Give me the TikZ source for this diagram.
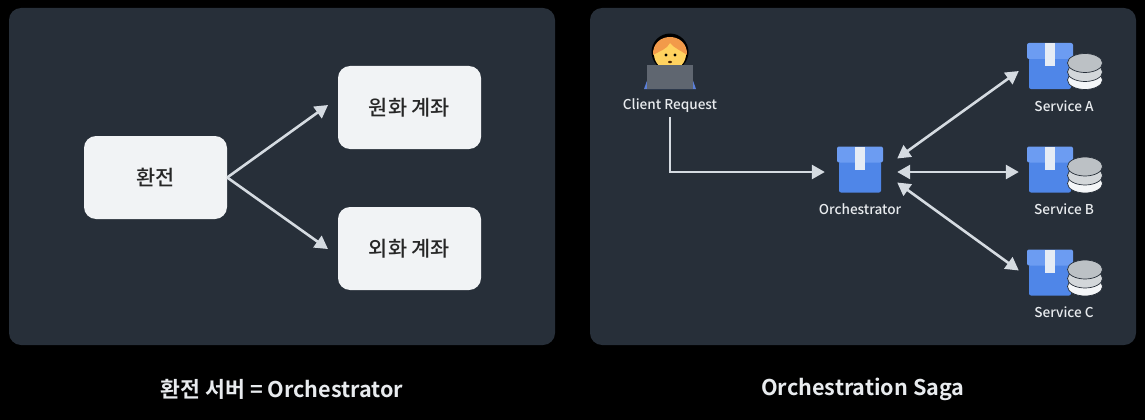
\documentclass[tikz,border=0pt]{standalone}
\usepackage{fontspec}
\setmainfont{Noto Sans CJK KR Medium}[BoldFont={Noto Sans CJK KR Bold}]
\usetikzlibrary{positioning,arrows.meta,calc}
\definecolor{panelcol}{HTML}{272F39}
\definecolor{boxcol}{HTML}{F1F3F5}
\definecolor{linecol}{HTML}{D5DBE1}
\definecolor{textcol}{HTML}{E8EBEE}
\definecolor{lidcol}{HTML}{6C9CF2}
\definecolor{bodycol}{HTML}{4F86E8}
\definecolor{ribboncol}{HTML}{E6ECF5}
\definecolor{haircol}{HTML}{F29A4A}
\definecolor{facecol}{HTML}{FFD25F}
\definecolor{laptopcol}{HTML}{5F6670}
\definecolor{armcol}{HTML}{5B7FD8}
\definecolor{coinlow}{HTML}{F4F6F8}
\definecolor{coinmid}{HTML}{D3D7DA}
\definecolor{cointop}{HTML}{BCC1C5}
\begin{document}
\begin{tikzpicture}[x=1pt,y=-1pt,
   panel/.style={fill=panelcol,rounded corners=12pt,inner sep=0pt,minimum width=546pt,minimum height=337pt},
   account/.style={fill=boxcol,rounded corners=12pt,inner sep=0pt,minimum width=143pt,minimum height=83pt,font=\fontsize{20.8}{24}\selectfont,text=black!85},
   caption/.style={text=textcol,font=\fontsize{21.6}{24}\selectfont\bfseries},
   iconlabel/.style={text=textcol,font=\fontsize{13.6}{16}\selectfont},
   icon/.style={inner sep=0pt,minimum height=46pt},
   flow/.style={-{Triangle[length=13pt,width=14pt]},draw=linecol,line width=2.6pt},
   both/.style={{Triangle[length=13pt,width=14pt]}-{Triangle[length=13pt,width=14pt]},draw=linecol,line width=2.6pt},
   boxicon/.pic={
     \fill[bodycol,rounded corners=2pt] (-21,-8) rectangle (21,23);
     \fill[lidcol,rounded corners=2pt] (-23,-23) rectangle (23,-7);
     \fill[ribboncol] (-5,-23) rectangle (5,0);
   },
   coins/.pic={
     \fill[coinlow,draw=panelcol,line width=0.7pt] (0,14) ellipse (17.5 and 9.5);
     \fill[coinmid,draw=panelcol,line width=0.7pt] (0,6) ellipse (17.5 and 9.5);
     \fill[cointop,draw=panelcol,line width=0.7pt] (0,-3) ellipse (17.5 and 9.5);
   },
   clienticon/.pic={
     \fill[armcol] (-26,37) -- (-21,23) -- (21,23) -- (26,37) -- cycle;
     \fill[black] (0,0) circle (18.5);
     \fill[facecol] (0,2) circle (16);
     \fill[haircol] (-17,3) .. controls (-18,-21) and (18,-21) .. (17,3) .. controls (10,-2) and (4,-4) .. (0,-9) .. controls (-3,-3) and (-10,-1) .. (-17,3);
     \fill[black] (-4,3) circle (1.6) (5,3) circle (1.6);
     \fill[black!70!orange] (0,10) ellipse (2 and 1.2);
     \fill[laptopcol] (-23,13) rectangle (23,37);
   }]
  % background
  \fill[black] (0,0) rectangle (1145,420);
  \node[panel] (left) at (282,176.5) {};
  \node[panel] (right) at (863,176.5) {};
  % left panel
  \node[account] (exchange) at (155.5,177.5) {환전};
  \node[account] (won) at (409.5,107.5) {원화 계좌};
  \node[account] (foreign) at (409.5,248.5) {외화 계좌};
  \draw[flow,shorten >=12pt] (exchange.east) -- ([yshift=9.5pt]won.west);
  \draw[flow,shorten >=12pt] (exchange.east) -- ([yshift=-7.5pt]foreign.west);
  % right panel
  \node[icon,minimum width=74pt] (orch) at (860,169.5) {};
  \node[icon,minimum width=62pt] (srva) at (1050,66) {};
  \node[icon,minimum width=62pt] (srvb) at (1050,169.5) {};
  \node[icon,minimum width=62pt] (srvc) at (1050,272.5) {};
  \node[iconlabel] (client) at (670,106) {Client Request};
  \node[iconlabel] (orchlabel) at (860,209) {Orchestrator};
  \node[iconlabel] (labela) at (1064,106) {Service A};
  \node[iconlabel] (labelb) at (1064,209) {Service B};
  \node[iconlabel] (labelc) at (1064,312) {Service C};
  \pic at (670,52) {clienticon};
  \pic at (orch) {boxicon};
  \foreach \s in {srva,srvb,srvc} {
    \pic at (\s) {boxicon};
    \pic at ($(\s)+(35,0)$) {coins};
  }
  \draw[flow] ([yshift=-1pt]client.south) |- ([yshift=-2.5pt,xshift=2pt]orch.west);
  \draw[both] ([yshift=11pt]orch.east) -- ([yshift=-5pt]srva.west);
  \draw[both] ([yshift=-2.5pt]orch.east) -- ([yshift=-2.5pt]srvb.west);
  \draw[both] ([yshift=-13pt]orch.east) -- ([yshift=2pt]srvc.west);
  % captions
  \node[caption] (capleft) at (282,389) {환전 서버 = Orchestrator};
  \node[caption] (capright) at (863,389) {Orchestration Saga};
\end{tikzpicture}
\end{document}
